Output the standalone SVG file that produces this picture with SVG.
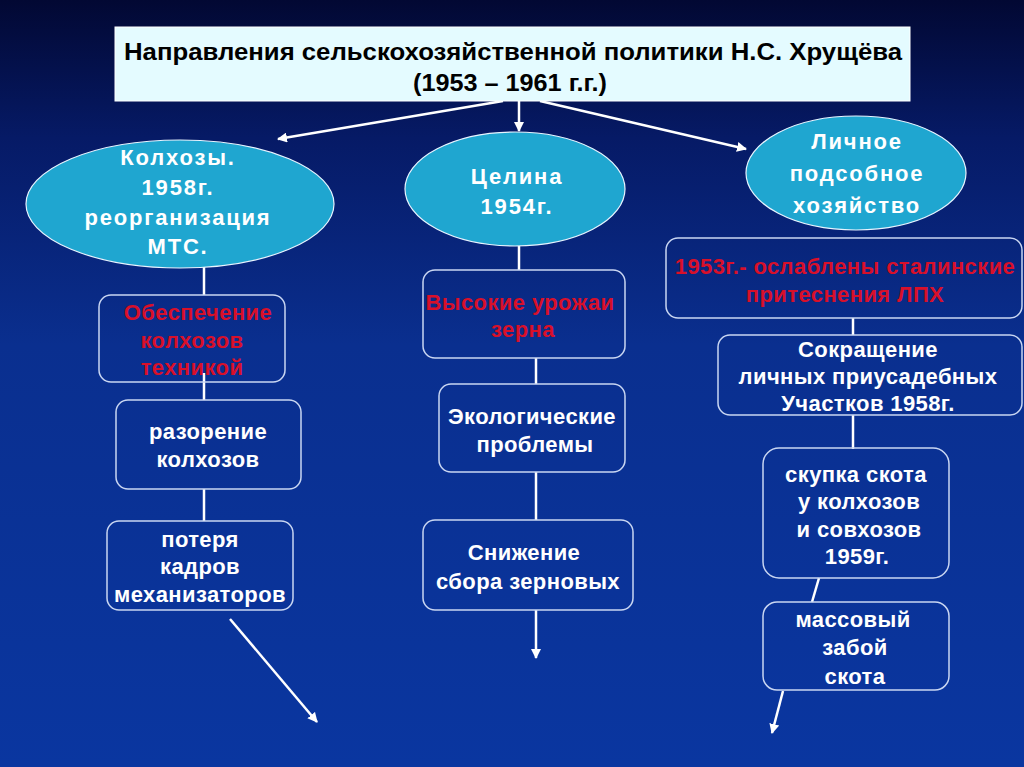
<svg xmlns="http://www.w3.org/2000/svg" width="1024" height="767" viewBox="0 0 1024 767">
<defs>
<linearGradient id="bg" x1="0" y1="0" x2="0" y2="1">
<stop offset="0" stop-color="#020833"/>
<stop offset="0.18" stop-color="#061a66"/>
<stop offset="0.45" stop-color="#0a2f8f"/>
<stop offset="1" stop-color="#0a36a0"/>
</linearGradient>
<marker id="ah" viewBox="0 0 10 10" refX="9" refY="5" markerWidth="4" markerHeight="4" orient="auto" markerUnits="strokeWidth">
<path d="M0,0 L10,5 L0,10 z" fill="#ffffff"/>
</marker>
<style>
.t{font-family:"Liberation Sans",Arial,sans-serif;font-weight:bold;font-size:22px;letter-spacing:0.4px;fill:#ffffff;text-anchor:middle}
.r{fill:#d8102a}
.e{font-size:22px;letter-spacing:1.8px}
.box{fill:none;stroke:#c9d6f2;stroke-width:1.5}
.ell{fill:#1fa6d0;stroke:#e8f4ff;stroke-width:1.2}
.ln{stroke:#ffffff;stroke-width:2.5;fill:none}
.ar{stroke:#ffffff;stroke-width:2.5;fill:none;marker-end:url(#ah)}
</style>
</defs>
<rect width="1024" height="767" fill="url(#bg)"/>

<g id="connectors">
<line class="ar" x1="503" y1="101" x2="278" y2="139"/>
<line class="ar" x1="519" y1="101" x2="519" y2="131"/>
<line class="ar" x1="540" y1="101" x2="746" y2="149"/>
<line class="ln" x1="204" y1="262" x2="204" y2="295"/>
<line class="ln" x1="204" y1="373" x2="204" y2="400"/>
<line class="ln" x1="204" y1="489" x2="204" y2="521"/>
<line class="ar" x1="230" y1="619" x2="317" y2="722"/>
<line class="ln" x1="519" y1="246" x2="519" y2="270"/>
<line class="ln" x1="536" y1="358" x2="536" y2="384"/>
<line class="ln" x1="536" y1="472" x2="536" y2="520"/>
<line class="ar" x1="536" y1="610" x2="536" y2="658"/>
<line class="ln" x1="853" y1="318" x2="853" y2="335"/>
<line class="ln" x1="853" y1="415" x2="853" y2="449"/>
<line class="ln" x1="819" y1="578" x2="812" y2="602"/>
<line class="ar" x1="783" y1="691" x2="772" y2="733"/>
</g>

<g id="title">
<rect x="115" y="27" width="795" height="74" fill="#e4fbff" stroke="#ffffff" stroke-width="1"/>
<text class="t" x="513" y="60" style="fill:#000000;font-size:24px;letter-spacing:0" textLength="778" lengthAdjust="spacingAndGlyphs">Направления сельскохозяйственной политики Н.С. Хрущёва</text>
<text class="t" x="510" y="91" style="fill:#000000;font-size:24px;letter-spacing:0" textLength="194" lengthAdjust="spacingAndGlyphs">(1953 – 1961 г.г.)</text>
</g>

<g id="kolkhozy">
<ellipse class="ell" cx="180" cy="204" rx="154" ry="64"/>
<text class="t e" x="178" y="165">Колхозы.</text>
<text class="t e" x="178" y="195">1958г.</text>
<text class="t e" x="178" y="225">реорганизация</text>
<text class="t e" x="178" y="254">МТС.</text>
</g>

<g id="tselina">
<ellipse class="ell" cx="515" cy="189" rx="110" ry="57"/>
<text class="t e" x="517" y="184">Целина</text>
<text class="t e" x="517" y="214">1954г.</text>
</g>

<g id="lph">
<ellipse class="ell" cx="856" cy="173" rx="110" ry="57"/>
<text class="t e" x="857" y="149">Личное</text>
<text class="t e" x="857" y="181">подсобное</text>
<text class="t e" x="857" y="213">хозяйство</text>
</g>

<g id="obespechenie">
<rect class="box" x="99" y="295" width="186" height="87" rx="12"/>
<text class="t r" x="198" y="320">Обеспечение</text>
<text class="t r" x="192" y="348">колхозов</text>
<text class="t r" x="192" y="375">техникой</text>
</g>

<g id="razorenie">
<rect class="box" x="116" y="400" width="185" height="89" rx="12"/>
<text class="t" x="208" y="439">разорение</text>
<text class="t" x="208" y="467">колхозов</text>
</g>

<g id="poterya">
<rect class="box" x="107" y="521" width="186" height="89" rx="12"/>
<text class="t" x="200" y="547">потеря</text>
<text class="t" x="200" y="574">кадров</text>
<text class="t" x="200" y="602">механизаторов</text>
</g>

<g id="urozhai">
<rect class="box" x="423" y="270" width="202" height="88" rx="12"/>
<text class="t r" x="520" y="310">Высокие урожаи</text>
<text class="t r" x="523" y="337">зерна</text>
</g>

<g id="ekologiya">
<rect class="box" x="439" y="384" width="186" height="88" rx="12"/>
<text class="t" x="532" y="424">Экологические</text>
<text class="t" x="535" y="452">проблемы</text>
</g>

<g id="snizhenie">
<rect class="box" x="423" y="520" width="210" height="90" rx="12"/>
<text class="t" x="524" y="560">Снижение</text>
<text class="t" x="528" y="589">сбора зерновых</text>
</g>

<g id="oslableny">
<rect class="box" x="666" y="238" width="356" height="80" rx="12"/>
<text class="t r" x="845" y="274">1953г.- ослаблены сталинские</text>
<text class="t r" x="845" y="302">притеснения ЛПХ</text>
</g>

<g id="sokrashchenie">
<rect class="box" x="718" y="335" width="304" height="80" rx="12"/>
<text class="t" x="868" y="357">Сокращение</text>
<text class="t" x="868" y="384">личных приусадебных</text>
<text class="t" x="868" y="411">Участков  1958г.</text>
</g>

<g id="skupka">
<rect class="box" x="763" y="448" width="186" height="130" rx="16"/>
<text class="t" x="856" y="482">скупка скота</text>
<text class="t" x="859" y="509">у колхозов</text>
<text class="t" x="859" y="537">и совхозов</text>
<text class="t" x="857" y="564">1959г.</text>
</g>

<g id="zaboi">
<rect class="box" x="763" y="602" width="186" height="88" rx="14"/>
<text class="t" x="853" y="627">массовый</text>
<text class="t" x="855" y="655">забой</text>
<text class="t" x="855" y="684">скота</text>
</g>
</svg>
